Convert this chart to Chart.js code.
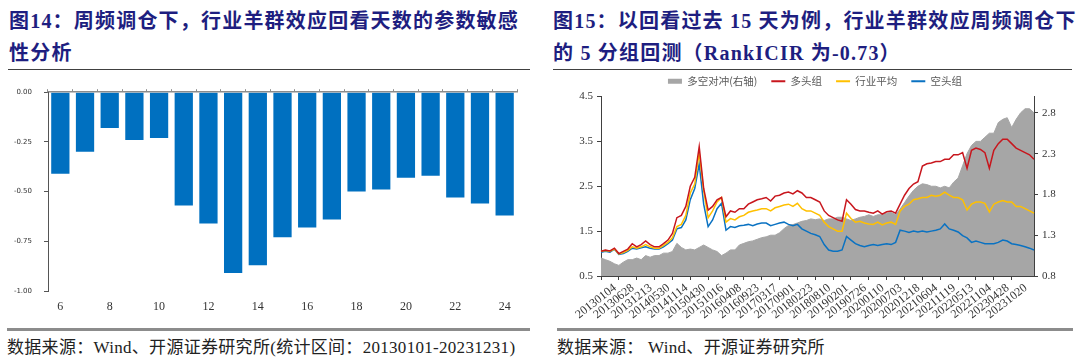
<!DOCTYPE html>
<html>
<head>
<meta charset="utf-8">
<script src="https://cdn.jsdelivr.net/npm/chart.js@4.4.1/dist/chart.umd.min.js"></script>
<style>
  body { margin: 0; width: 1080px; height: 364px; background: #fff; position: relative; overflow: hidden;
         font-family: "Liberation Serif", "Noto Sans CJK SC", serif; }
  .title { position: absolute; top: 5px; color: #1e1e80; font-size: 20px; font-weight: bold;
           line-height: 32px; letter-spacing: 1.2px; white-space: nowrap; }
  .rule { position: absolute; top: 69px; height: 1px; background: #404040; }
  .sep { position: absolute; top: 328px; height: 3px; background: #8c8c8c; }
  .src { position: absolute; top: 333px; font-size: 17px; letter-spacing: 0.3px; color: #222; white-space: nowrap; }
  canvas { position: absolute; }
</style>
</head>
<body>
<div class="title" style="left:9px">图14：周频调仓下，行业羊群效应回看天数的参数敏感<br>性分析</div>
<div class="rule" style="left:8px; width:522px"></div>
<div class="title" style="left:553px">图15：以回看过去 15 天为例，行业羊群效应周频调仓下<br>的 5 分组回测（RankICIR 为-0.73）</div>
<div class="rule" style="left:553px; width:519px"></div>

<canvas id="left" width="540" height="254" style="left:0; top:76px"></canvas>
<canvas id="right" width="530" height="268" style="left:550px; top:62px"></canvas>

<div class="sep" style="left:7px; width:523px"></div>
<div class="sep" style="left:557px; width:516px"></div>
<div class="src" style="left:7px">数据来源：Wind、开源证券研究所(统计区间：20130101-20231231)</div>
<div class="src" style="left:557px">数据来源： Wind、开源证券研究所</div>

<script>
// 图14 回看天数敏感性
const DAYS = [6, 7, 8, 9, 10, 11, 12, 13, 14, 15, 16, 17, 18, 19, 20, 21, 22, 23, 24];
const RANK_ICIR = [-0.41, -0.30, -0.18, -0.24, -0.23, -0.57, -0.66, -0.91, -0.87, -0.73,
  -0.68, -0.64, -0.50, -0.49, -0.43, -0.42, -0.53, -0.56, -0.62];
const BAR_TICKS = [0, -0.25, -0.5, -0.75, -1];

// 图15 分组回测（每 4 个点一个日期标签）
const X_LABELS = ["20130104", "20130628", "20131213", "20140530", "20141114", "20150430",
  "20151016", "20160408", "20160923", "20170317", "20170901", "20180223", "20180810",
  "20190201", "20190726", "20200110", "20200703", "20201218", "20210604", "20211119",
  "20220513", "20221104", "20230428", "20231020"];
const HEDGE = [
  1.02, 1.00, 0.98, 0.95, 0.93, 0.97, 1.00, 1.00, 1.02, 1.00,
  1.05, 1.03, 1.05, 1.05, 1.08, 1.08, 1.10, 1.20, 1.15, 1.12,
  1.13, 1.12, 1.15, 1.18, 1.15, 1.12, 1.10, 1.05, 1.08, 1.12,
  1.12, 1.18, 1.20, 1.22, 1.23, 1.25, 1.27, 1.28, 1.30, 1.30,
  1.33, 1.38, 1.42, 1.43, 1.45, 1.47, 1.48, 1.50, 1.49, 1.50,
  1.48, 1.50, 1.50, 1.52, 1.52, 1.50, 1.48, 1.50, 1.52, 1.53,
  1.55, 1.53, 1.55, 1.55, 1.57, 1.58, 1.55, 1.62, 1.70, 1.78,
  1.85, 1.90, 1.93, 1.92, 1.90, 1.90, 1.88, 1.90, 1.88, 1.95,
  2.00, 2.15, 2.30, 2.40, 2.45, 2.45, 2.50, 2.55, 2.55, 2.68,
  2.72, 2.74, 2.62, 2.72, 2.80, 2.85, 2.85, 2.80];
const LONG = [
  1.05, 1.08, 1.06, 1.12, 1.00, 1.05, 1.10, 1.22, 1.15, 1.20,
  1.28, 1.20, 1.15, 1.15, 1.22, 1.30, 1.45, 1.80, 1.85, 2.05,
  2.50, 2.70, 3.38, 2.45, 1.97, 2.05, 2.20, 2.25, 1.82, 1.95,
  1.92, 2.00, 2.00, 2.10, 2.15, 2.20, 2.22, 2.25, 2.17, 2.28,
  2.30, 2.35, 2.37, 2.33, 2.40, 2.35, 2.25, 2.25, 2.20, 2.15,
  1.95, 1.85, 1.80, 1.75, 1.72, 2.20, 2.10, 1.98, 1.95, 1.95,
  1.92, 1.90, 1.95, 1.88, 1.93, 1.95, 1.90, 2.10, 2.30, 2.45,
  2.55, 2.60, 2.95, 3.00, 3.02, 3.05, 3.05, 3.10, 3.10, 3.20,
  3.20, 3.25, 2.90, 3.30, 3.35, 3.32, 3.25, 2.90, 3.30, 3.45,
  3.55, 3.55, 3.45, 3.35, 3.30, 3.25, 3.20, 3.10];
const AVG = [
  1.05, 1.07, 1.05, 1.10, 0.99, 1.02, 1.07, 1.15, 1.12, 1.15,
  1.20, 1.15, 1.12, 1.12, 1.18, 1.25, 1.35, 1.60, 1.65, 1.85,
  2.35, 2.55, 3.25, 2.40, 1.80, 1.95, 2.15, 2.25, 1.70, 1.78,
  1.75, 1.82, 1.85, 1.92, 1.95, 1.97, 2.00, 2.00, 1.95, 2.02,
  2.05, 2.08, 2.10, 2.05, 2.12, 2.00, 1.95, 1.95, 1.90, 1.85,
  1.70, 1.60, 1.55, 1.50, 1.50, 1.90, 1.78, 1.70, 1.72, 1.68,
  1.66, 1.65, 1.70, 1.64, 1.68, 1.70, 1.65, 1.95, 2.05, 2.10,
  2.20, 2.22, 2.25, 2.25, 2.30, 2.28, 2.30, 2.37, 2.30, 2.25,
  2.25, 2.20, 1.97, 2.10, 2.15, 2.15, 2.12, 1.93, 2.10, 2.15,
  2.18, 2.15, 2.15, 2.05, 2.05, 2.00, 1.95, 1.90];
const SHORT = [
  1.03, 1.05, 1.03, 1.10, 0.98, 1.00, 1.05, 1.12, 1.10, 1.13,
  1.15, 1.12, 1.10, 1.10, 1.15, 1.22, 1.30, 1.55, 1.58, 1.75,
  2.20, 2.45, 3.00, 2.10, 1.60, 1.75, 2.00, 2.12, 1.52, 1.60,
  1.58, 1.62, 1.63, 1.65, 1.62, 1.66, 1.68, 1.68, 1.62, 1.65,
  1.68, 1.70, 1.65, 1.62, 1.65, 1.55, 1.50, 1.45, 1.42, 1.38,
  1.20, 1.08, 1.05, 1.05, 1.08, 1.38, 1.30, 1.22, 1.18, 1.15,
  1.18, 1.20, 1.18, 1.20, 1.22, 1.20, 1.25, 1.52, 1.50, 1.47,
  1.50, 1.48, 1.50, 1.48, 1.50, 1.52, 1.55, 1.66, 1.55, 1.52,
  1.48, 1.40, 1.35, 1.25, 1.28, 1.25, 1.22, 1.22, 1.22, 1.25,
  1.30, 1.28, 1.22, 1.20, 1.18, 1.15, 1.12, 1.08];
const LEFT_TICKS = [0.5, 1.5, 2.5, 3.5, 4.5];
const RIGHT_TICKS = [0.8, 1.3, 1.8, 2.3, 2.8];

const TICK_FONT = { family: "Liberation Serif", size: 11 };
const AXIS = "#404040";

// ---------- 左图：柱状 ----------
new Chart(document.getElementById("left"), {
  type: "bar",
  data: {
    labels: DAYS.map(String),
    datasets: [{
      data: RANK_ICIR,
      backgroundColor: "#0070c0",
      categoryPercentage: 1,
      barPercentage: 0.74,
    }],
  },
  options: {
    responsive: false,
    animation: false,
    layout: { padding: { top: 9, right: 23, bottom: 0, left: 0 } },
    plugins: { legend: { display: false }, tooltip: { enabled: false } },
    scales: {
      x: {
        grid: { display: false, drawTicks: false },
        border: { display: false },
        ticks: {
          autoSkip: false, maxRotation: 0, padding: 9,
          font: { family: "Liberation Serif", size: 12 }, color: "#333",
          callback: (v, i) => (DAYS[i] % 2 === 0 ? String(DAYS[i]) : ""),
        },
        afterFit: (s) => { s.height = 39; },
      },
      xTop: {
        type: "category",
        position: "top",
        labels: DAYS.map(String),
        offset: true,
        grid: { offset: true, drawOnChartArea: false, tickLength: 3, color: "#8c8c8c" },
        border: { color: "#8c8c8c", width: 1.5 },
        ticks: { display: false },
      },
      y: {
        min: -1, max: 0,
        afterBuildTicks: (s) => { s.ticks = BAR_TICKS.map((v) => ({ value: v })); },
        ticks: { callback: (v) => v.toFixed(2), font: { family: "DejaVu Sans", size: 7 }, color: "#333", padding: 12 },
        grid: { drawOnChartArea: false, tickLength: 4, color: "#555" },
        border: { color: "#555" },
        afterFit: (s) => { s.width = 48; },
      },
    },
  },
});

// ---------- 右图：分组净值 ----------
const categories = LONG.map((_, i) => (i % 4 === 0 && i / 4 < X_LABELS.length ? X_LABELS[i / 4] : ""));

new Chart(document.getElementById("right"), {
  type: "line",
  data: {
    labels: categories,
    datasets: [
      { label: "多空对冲(右轴)", data: HEDGE, yAxisID: "y2", order: 1, fill: "start",
        backgroundColor: "#a6a6a6", borderColor: "#a6a6a6", borderWidth: 1, pointRadius: 0 },
      { label: "多头组", data: LONG, yAxisID: "y", order: 0,
        borderColor: "#c8161d", borderWidth: 1.5, pointRadius: 0 },
      { label: "行业平均", data: AVG, yAxisID: "y", order: 0,
        borderColor: "#ffc000", borderWidth: 1.5, pointRadius: 0 },
      { label: "空头组", data: SHORT, yAxisID: "y", order: 0,
        borderColor: "#0a72c2", borderWidth: 1.5, pointRadius: 0 },
    ],
  },
  options: {
    responsive: false,
    animation: false,
    layout: { padding: 0 },
    plugins: {
      tooltip: { enabled: false },
      legend: {
        position: "top",
        labels: {
          usePointStyle: true,
          pointStyleWidth: 14,
          boxHeight: 5,
          padding: 14,
          color: "#595959",
          font: { family: "Noto Sans CJK SC", size: 10.5 },
          generateLabels: (chart) => chart.data.datasets.map((d, i) => ({
            text: d.label,
            datasetIndex: i,
            pointStyle: i === 0 ? "rect" : "line",
            fillStyle: d.backgroundColor || d.borderColor,
            strokeStyle: d.borderColor,
            lineWidth: i === 0 ? 0 : 2,
            fontColor: "#595959",
            hidden: false,
          })),
        },
      },
    },
    scales: {
      x: {
        grid: { drawOnChartArea: false, tickLength: 4, color: AXIS },
        border: { color: AXIS },
        afterBuildTicks: (s) => { s.ticks = s.ticks.filter((t) => categories[t.value] !== ""); },
        ticks: {
          autoSkip: false, minRotation: 38, maxRotation: 38, labelOffset: 14, padding: 1,
          font: { family: "Liberation Serif", size: 12 }, color: "#333",
        },
        afterFit: (s) => { s.height = 54; },
      },
      y: {
        position: "left", min: 0.5, max: 4.5,
        afterBuildTicks: (s) => { s.ticks = LEFT_TICKS.map((v) => ({ value: v })); },
        ticks: { callback: (v) => v.toFixed(1), font: TICK_FONT, color: "#333", padding: 4 },
        grid: { drawOnChartArea: false, tickLength: 4, color: AXIS },
        border: { color: AXIS },
        afterFit: (s) => { s.width = 51; },
      },
      y2: {
        position: "right", min: 0.8, max: 3.0,
        afterBuildTicks: (s) => { s.ticks = RIGHT_TICKS.map((v) => ({ value: v })); },
        ticks: { callback: (v) => v.toFixed(1), font: TICK_FONT, color: "#333", padding: 4 },
        grid: { drawOnChartArea: false, tickLength: 4, color: AXIS },
        border: { color: AXIS },
        afterFit: (s) => { s.width = 46; },
      },
    },
  },
});
</script>
</body>
</html>
